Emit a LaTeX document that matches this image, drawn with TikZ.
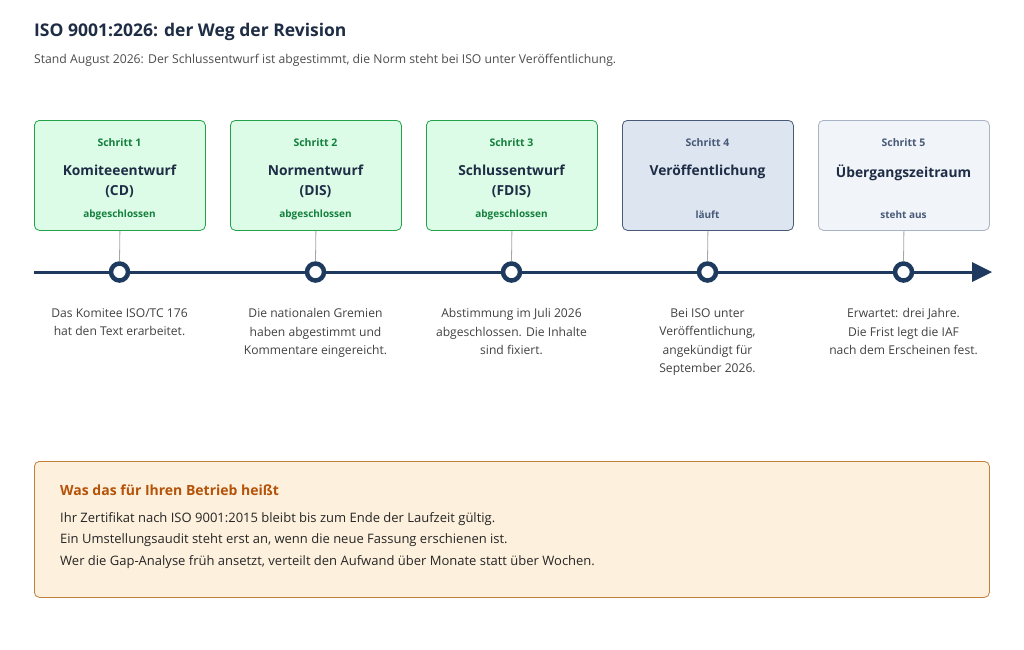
\documentclass[tikz,border=0pt]{standalone}
\usepackage{fontspec}
\setmainfont{Open Sans}
\begin{document}
\begin{tikzpicture}[x=1pt,y=-1pt,
 box/.style={draw=#1,line width=0.8pt,rounded corners=5pt,minimum width=171pt,minimum height=110pt,anchor=north west},
 desc/.style={align=center,font=\fontsize{12.1}{18.5}\selectfont,text=black!75,anchor=north},
 dot/.style={circle,draw=navy,line width=4.5pt,fill=white,minimum size=17pt,inner sep=0pt},
 stem/.style={draw=black!35,line width=0.8pt}]
\definecolor{navy}{HTML}{1E3A5F}
\definecolor{gfill}{HTML}{DCFCE7}\definecolor{gline}{HTML}{22A34A}\definecolor{gtext}{HTML}{15803D}
\definecolor{bfill}{HTML}{DDE5F1}\definecolor{bline}{HTML}{475A78}
\definecolor{pfill}{HTML}{F1F4F9}\definecolor{pline}{HTML}{A8B3C4}
\definecolor{ofill}{HTML}{FDF0DC}\definecolor{oline}{HTML}{C2803A}\definecolor{otext}{HTML}{B45309}
\definecolor{dtext}{HTML}{1E2D45}
\useasboundingbox (0,0) rectangle (1024,649);
\node[anchor=west,inner sep=0pt,font=\fontsize{17.5}{20}\selectfont\bfseries,text=dtext] (title) at (34,32) {ISO 9001:2026: der Weg der Revision};
\node[anchor=west,inner sep=0pt,font=\fontsize{12.2}{14}\selectfont,text=black!70] (sub) at (34,60) {Stand August 2026: Der Schlussentwurf ist abgestimmt, die Norm steht bei ISO unter Veröffentlichung.};
\draw[navy,line width=3pt] (34,272) -- (974,272);
\fill[navy] (992,272) -- (972,262) -- (972,282) -- cycle;
\foreach \i/\x/\f/\l/\c/\s/\t/\st in {
 1/34/gfill/gline/gtext/Schritt 1/{Komiteeentwurf\\(CD)}/abgeschlossen,
 2/230/gfill/gline/gtext/Schritt 2/{Normentwurf\\(DIS)}/abgeschlossen,
 3/426/gfill/gline/gtext/Schritt 3/{Schlussentwurf\\(FDIS)}/abgeschlossen,
 4/622/bfill/bline/bline/Schritt 4/{Veröffentlichung}/läuft,
 5/818/pfill/pline/bline/Schritt 5/{Übergangszeitraum}/steht aus}{
 \node[box=\l,fill=\f] (b\i) at (\x,120) {};
 \node[font=\fontsize{10.5}{12}\selectfont\bfseries,text=\c] (s\i) at (\x+85.5,143) {\s};
 \node[font=\fontsize{13.8}{20}\selectfont\bfseries,text=dtext,align=center,anchor=north] (t\i) at (\x+85.5,161) {\t};
 \node[font=\fontsize{10}{12}\selectfont\bfseries,text=\c] (st\i) at (\x+85.5,215) {\st};
 \node[dot] (d\i) at (\x+85.5,272) {};
 \draw[stem] (b\i.south) -- (d\i.north);
}
\node[desc] (e1) at (119.5,305) {Das Komitee ISO/TC 176\\hat den Text erarbeitet.};
\node[desc] (e2) at (315.5,305) {Die nationalen Gremien\\haben abgestimmt und\\Kommentare eingereicht.};
\node[desc] (e3) at (511.5,305) {Abstimmung im Juli 2026\\abgeschlossen. Die Inhalte\\sind fixiert.};
\node[desc] (e4) at (707.5,305) {Bei ISO unter\\Veröffentlichung,\\angekündigt für\\September 2026.};
\node[desc] (e5) at (903.5,305) {Erwartet: drei Jahre.\\Die Frist legt die IAF\\nach dem Erscheinen fest.};
\node[draw=oline,fill=ofill,line width=0.8pt,rounded corners=5pt,minimum width=955pt,minimum height=136pt,anchor=north west] (info) at (34,461) {};
\node[anchor=west,inner sep=0pt,font=\fontsize{14}{16}\selectfont\bfseries,text=otext] (it) at (60,490) {Was das für Ihren Betrieb heißt};
\node[anchor=north west,inner sep=0pt,align=left,font=\fontsize{13}{21.5}\selectfont,text=black!85] (ib) at (60,512) {Ihr Zertifikat nach ISO 9001:2015 bleibt bis zum Ende der Laufzeit gültig.\\Ein Umstellungsaudit steht erst an, wenn die neue Fassung erschienen ist.\\Wer die Gap-Analyse früh ansetzt, verteilt den Aufwand über Monate statt über Wochen.};
\end{tikzpicture}
\end{document}
